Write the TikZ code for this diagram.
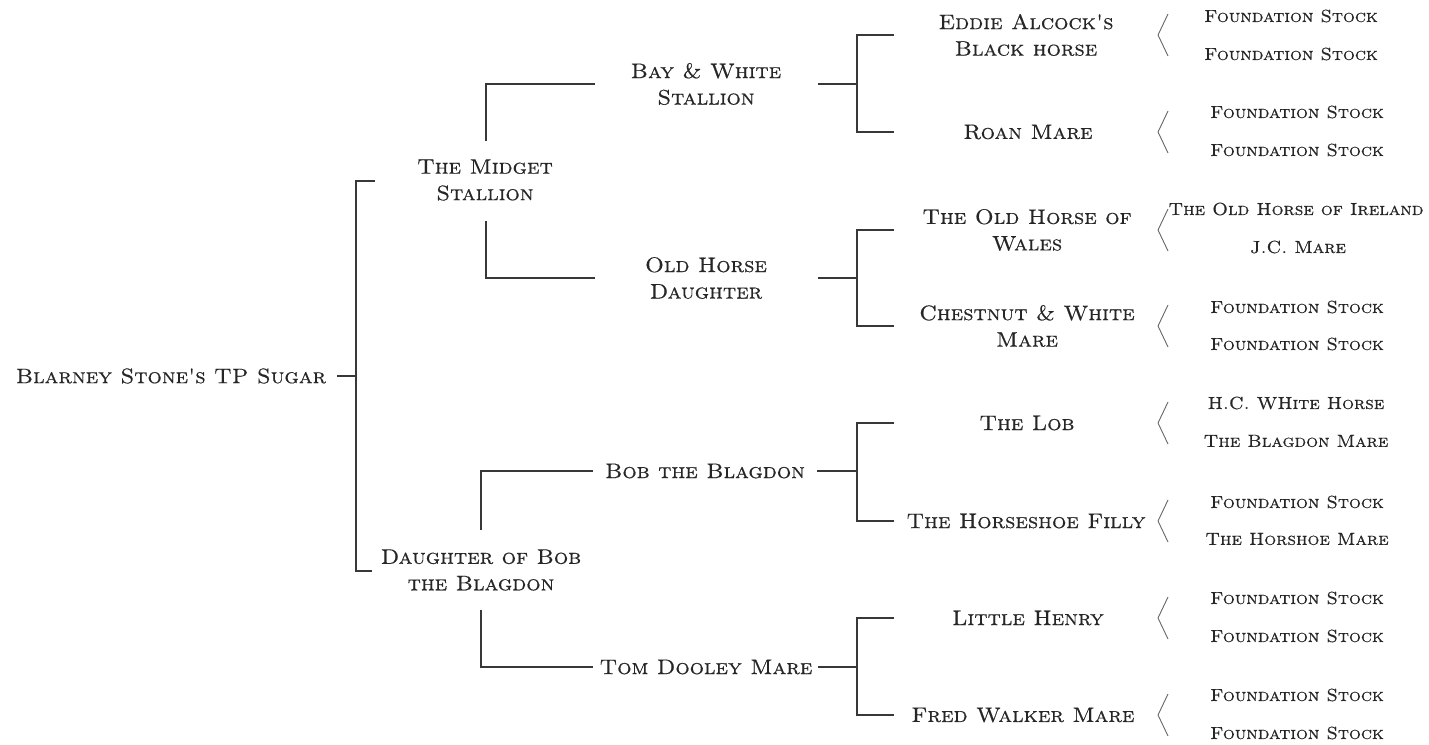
\documentclass[tikz,border=0pt]{standalone}
\usepackage{fontspec}
\newfontfamily\cpf{lmromancaps10-regular.otf}[FakeStretch=1.07, FakeBold=0.5]
\usetikzlibrary{calc}
\tikzset{
  lbl/.style={font=\cpf\fontsize{21}{26.5}\selectfont, align=center, inner sep=0pt, text=black!85},
  lbls/.style={font=\cpf\fontsize{17.5}{20}\selectfont, align=center, inner sep=0pt, text=black!85},
  link/.style={draw=black!78, line width=1.3pt},
  brk/.style={draw=black!60, line width=0.9pt, line join=miter},
}
\begin{document}
\begin{tikzpicture}[x=1pt,y=-1pt]
\useasboundingbox[fill=white] (0,0) rectangle (1429,744);
% level 0
\node[lbl] (r) at (171,376) {Blarney Stone's TP Sugar};
% level 1
\node[lbl] (m1) at (485,180) {The Midget\\Stallion};
\node[lbl] (d1) at (481,570) {Daughter of Bob\\the Blagdon};
% level 2
\node[lbl] (b1) at (706,84) {Bay \& White\\Stallion};
\node[lbl] (o1) at (706,278) {Old Horse\\Daughter};
\node[lbl] (bb) at (705,471) {Bob the Blagdon};
\node[lbl] (td) at (706,667) {Tom Dooley Mare};
% level 3
\node[lbl] (e1) at (1026,35) {Eddie Alcock's\\Black horse};
\node[lbl] (e2) at (1028,132) {Roan Mare};
\node[lbl] (w1) at (1027,230) {The Old Horse of\\Wales};
\node[lbl] (w2) at (1027,326) {Chestnut \& White\\Mare};
\node[lbl] (l1) at (1027,423) {The Lob};
\node[lbl] (l2) at (1026,521) {The Horseshoe Filly};
\node[lbl] (h1) at (1028,618) {Little Henry};
\node[lbl] (h2) at (1023,715) {Fred Walker Mare};
% level 4
\node[lbls] (e1a) at (1291,16) {Foundation Stock};
\node[lbls] (e1b) at (1291,54) {Foundation Stock};
\node[lbls] (e2a) at (1297,112) {Foundation Stock};
\node[lbls] (e2b) at (1297,150) {Foundation Stock};
\node[lbls] (w1a) at (1296,209) {The Old Horse of Ireland};
\node[lbls] (w1b) at (1298,247) {J.C. Mare};
\node[lbls] (w2a) at (1297,307) {Foundation Stock};
\node[lbls] (w2b) at (1297,344) {Foundation Stock};
\node[lbls] (l1a) at (1296,403) {H.C. WHite Horse};
\node[lbls] (l1b) at (1296,441) {The Blagdon Mare};
\node[lbls] (l2a) at (1297,502) {Foundation Stock};
\node[lbls] (l2b) at (1297,539) {The Horshoe Mare};
\node[lbls] (h1a) at (1297,598) {Foundation Stock};
\node[lbls] (h1b) at (1297,636) {Foundation Stock};
\node[lbls] (h2a) at (1297,695) {Foundation Stock};
\node[lbls] (h2b) at (1297,733) {Foundation Stock};

% root connectors
\draw[link] ($(r)+(166,0)$) -- ($(r)+(185,0)$);
\draw[link] ($(m1)+(-110,1)$) -- ($(m1)+(-129,1)$) -- ($(d1)+(-125,1)$) -- ($(d1)+(-109,1)$);
% level 1 -> 2
\draw[link] ($(m1)+(1,-39)$) |- ($(b1)+(-111,0)$);
\draw[link] ($(m1)+(1,41)$) |- ($(o1)+(-111,0)$);
\draw[link] ($(d1)+(0,-40)$) |- ($(bb)+(-112,0)$);
\draw[link] ($(d1)+(0,40)$) |- ($(td)+(-113,0)$);
% level 2 -> 3
\coordinate (vx) at (857,0);
\foreach \p/\a/\b in {b1/e1/e2, o1/w1/w2, bb/l1/l2, td/h1/h2}{
  \draw[link] ($(\p)+(112,0)$) -- (vx |- \p);
  \draw[link] ($(vx |- \a)+(37,0)$) -- (vx |- \a) -- (vx |- \b) -- ($(vx |- \b)+(37,0)$);
}
% level 3 brackets
\coordinate (bx) at (1158,0);
\foreach \n in {e1,e2,w1,w2,l1,l2,h1,h2}{
  \draw[brk] ($(bx |- \n)+(10,-21)$) -- (bx |- \n) -- ($(bx |- \n)+(10,21)$);
}
\end{tikzpicture}
\end{document}
